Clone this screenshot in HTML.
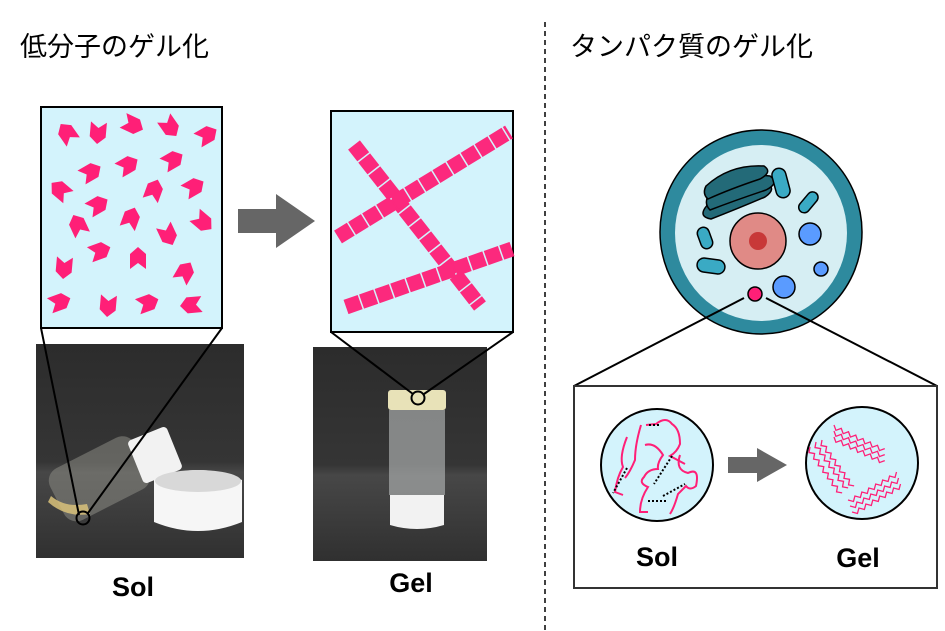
<!DOCTYPE html>
<html><head><meta charset="utf-8"><style>
html,body{margin:0;padding:0;background:#fff}
svg{display:block}
text{font-family:"Liberation Sans","Noto Sans CJK JP",sans-serif}
</style></head><body>
<svg width="945" height="631" viewBox="0 0 945 631" xmlns="http://www.w3.org/2000/svg">
<defs>
<polygon id="ch" points="-11,-8 4,-8 11,0 4,8 -11,8 -5,0" fill="#ff1f77"/>
<linearGradient id="bg" x1="0" y1="0" x2="0" y2="1"><stop offset="0" stop-color="#2c2c2c"/><stop offset="0.55" stop-color="#353535"/><stop offset="0.6" stop-color="#474747"/><stop offset="1" stop-color="#303030"/></linearGradient>
<path id="zz" d="M0 0 l4 4 l4 -4 l4 4 l4 -4 l4 4 l4 -4 l4 4 l4 -4 l4 4 l4 -4 l4 4 l4 -4 l4 4 l4 -4" fill="none" stroke="#ff1f77" stroke-width="1.3"/>
</defs>
<text x="20" y="56" font-size="27">低分子のゲル化</text>
<text x="570" y="56" font-size="27">タンパク質のゲル化</text>
<line x1="545" y1="22" x2="545" y2="631" stroke="#000" stroke-width="1.5" stroke-dasharray="5,4"/>

<!-- photos -->
<rect x="36" y="344" width="208" height="214" fill="url(#bg)"/>
<g>
<rect x="52" y="450" width="95" height="58" rx="14" fill="#8a8a84" opacity="0.55" transform="rotate(-27 99 479)"/>
<path d="M48 502 q18 16 42 12 l-3 -10 q-22 4 -36 -8z" fill="#d9c27a" opacity="0.85"/>
<rect x="134" y="432" width="42" height="46" rx="4" fill="#f2f2f2" transform="rotate(-22 155 455)"/>
<path d="M154 480 q44 -20 88 0 v42 q-44 18 -88 0z" fill="#f6f6f6"/>
<ellipse cx="198" cy="481" rx="43" ry="11" fill="#d8d8d8"/>
</g>
<rect x="313" y="347" width="174" height="214" fill="url(#bg)"/>
<rect x="388" y="390" width="58" height="20" rx="3" fill="#e8e2b8"/>
<rect x="389" y="410" width="56" height="85" fill="#a8abab" opacity="0.7"/>
<path d="M390 495 h54 v30 q-27 8 -54 0z" fill="#f2f2f2"/>

<!-- zoom lines -->
<line x1="41" y1="328" x2="79" y2="515" stroke="#000" stroke-width="2"/>
<line x1="222" y1="328" x2="88" y2="513" stroke="#000" stroke-width="2"/>
<circle cx="83" cy="518" r="6.5" fill="none" stroke="#000" stroke-width="2"/>
<line x1="331" y1="332" x2="413" y2="394" stroke="#000" stroke-width="2"/>
<line x1="513" y1="332" x2="424" y2="394" stroke="#000" stroke-width="2"/>
<circle cx="418" cy="398" r="6.5" fill="none" stroke="#000" stroke-width="2"/>

<!-- left box -->
<rect x="41" y="107" width="181" height="221" fill="#d3f3fc" stroke="#000" stroke-width="2"/>
<g>
<use href="#ch" transform="translate(67,133) rotate(-125)"/>
<use href="#ch" transform="translate(98,133) rotate(95)"/>
<use href="#ch" transform="translate(133,125) rotate(25)"/>
<use href="#ch" transform="translate(170,127) rotate(55)"/>
<use href="#ch" transform="translate(207,135) rotate(-30)"/>
<use href="#ch" transform="translate(91,172) rotate(-30)"/>
<use href="#ch" transform="translate(128,165) rotate(-30)"/>
<use href="#ch" transform="translate(173,160) rotate(-30)"/>
<use href="#ch" transform="translate(60,190) rotate(-140)"/>
<use href="#ch" transform="translate(154,190) rotate(-70)"/>
<use href="#ch" transform="translate(194,187) rotate(-30)"/>
<use href="#ch" transform="translate(98,205) rotate(-30)"/>
<use href="#ch" transform="translate(78,225) rotate(-115)"/>
<use href="#ch" transform="translate(131,218) rotate(-70)"/>
<use href="#ch" transform="translate(203,222) rotate(40)"/>
<use href="#ch" transform="translate(168,235) rotate(65)"/>
<use href="#ch" transform="translate(100,251) rotate(-20)"/>
<use href="#ch" transform="translate(138,258) rotate(-90)"/>
<use href="#ch" transform="translate(64,268) rotate(95)"/>
<use href="#ch" transform="translate(185,272) rotate(-60)"/>
<use href="#ch" transform="translate(60,302) rotate(-20)"/>
<use href="#ch" transform="translate(108,306) rotate(95)"/>
<use href="#ch" transform="translate(148,303) rotate(-20)"/>
<use href="#ch" transform="translate(191,305) rotate(175)"/>
</g>

<polygon points="238,209 276,209 276,194 315,221 276,248 276,233 238,233" fill="#666"/>

<!-- right box -->
<rect x="331" y="111" width="182" height="221" fill="#d3f3fc" stroke="#000" stroke-width="2"/>
<g stroke="#ff1f77" stroke-width="15" fill="none" stroke-dasharray="15,1.5" opacity="0.95">
<line x1="354" y1="145" x2="480" y2="306"/>
<line x1="338" y1="237" x2="509" y2="132"/>
<line x1="346" y1="307" x2="512" y2="249"/>
</g>

<text x="133" y="596" font-size="27" font-weight="bold" text-anchor="middle">Sol</text>
<text x="411" y="592" font-size="27" font-weight="bold" text-anchor="middle">Gel</text>

<!-- cell -->
<ellipse cx="761" cy="232" rx="101" ry="102" fill="#2e8a9e" stroke="#000" stroke-width="1.5"/>
<ellipse cx="761" cy="233" rx="86" ry="88" fill="#d6eef3"/>
<g stroke="#000" stroke-width="1.5">
<path d="M705 208 q20 -28 62 -25 q10 6 -2 14 q-28 12 -54 22 q-12 -2 -6 -11z" fill="#236a78"/>
<path d="M708 196 q28 -24 62 -20 q10 7 -4 14 q-30 10 -56 20 q-6 -6 -2 -14z" fill="#236a78"/>
<path d="M706 186 q24 -22 58 -20 q9 6 -4 13 q-30 10 -52 20 q-6 -5 -2 -13z" fill="#236a78"/>
<rect x="774" y="168" width="14" height="30" rx="7" fill="#3aaac4" transform="rotate(-15 781 183)"/>
<rect x="803" y="190" width="11" height="24" rx="5.5" fill="#3aaac4" transform="rotate(40 808 202)"/>
<rect x="699" y="227" width="12" height="22" rx="6" fill="#3aaac4" transform="rotate(-20 705 238)"/>
<rect x="697" y="259" width="28" height="14" rx="7" fill="#3aaac4" transform="rotate(8 711 266)"/>
<circle cx="758" cy="241" r="28" fill="#e08a86"/>
<circle cx="810" cy="234" r="11" fill="#5a9bff"/>
<circle cx="821" cy="269" r="7" fill="#5a9bff"/>
<circle cx="784" cy="287" r="11" fill="#5a9bff"/>
</g>
<circle cx="758" cy="241" r="9" fill="#c83838"/>
<line x1="744" y1="298" x2="574" y2="386" stroke="#000" stroke-width="2"/>
<line x1="766" y1="298" x2="937" y2="386" stroke="#000" stroke-width="2"/>
<circle cx="755" cy="294" r="7" fill="#ff1f77" stroke="#000" stroke-width="1.5"/>

<rect x="574" y="386" width="363" height="202" fill="#fff" stroke="#333" stroke-width="2"/>
<circle cx="657" cy="465" r="56" fill="#d3f3fc" stroke="#000" stroke-width="2"/>
<circle cx="862" cy="463" r="56" fill="#d3f3fc" stroke="#000" stroke-width="2"/>
<g fill="none" stroke="#ff1f77" stroke-width="2">
<path d="M627 437 q-8 20 -4 30 q-6 10 -8 25 l8 3"/>
<path d="M641 425 q-6 20 -6 35 q-5 12 -10 18"/>
<path d="M646 425 l10 -1 q10 -8 16 0 q8 5 8 20 q-3 8 -10 12 l15 8"/>
<path d="M645 445 q10 -3 18 10 q-6 8 -5 14 q-10 0 -14 8 q-6 6 4 10 q-8 12 -8 25 l8 0"/>
<path d="M680 455 q-5 15 8 18 q12 -6 8 13 q-6 5 -10 0 l-8 8 q-4 14 -8 20"/>
</g>
<g fill="none" stroke="#000" stroke-width="2" stroke-dasharray="2,2">
<path d="M627 468 l-14 25"/><path d="M659 425 l-12 0"/><path d="M672 456 l-18 28"/><path d="M648 501 l18 0"/><path d="M663 496 l22 -12"/>
</g>
<g>
<use href="#zz" transform="translate(834,425) rotate(25)"/>
<use href="#zz" transform="translate(834,431) rotate(25)"/>
<use href="#zz" transform="translate(834,437) rotate(25)"/>
<use href="#zz" transform="translate(816,442) rotate(55)"/>
<use href="#zz" transform="translate(822,440) rotate(55)"/>
<use href="#zz" transform="translate(810,447) rotate(55)"/>
<use href="#zz" transform="translate(848,500) rotate(-30)"/>
<use href="#zz" transform="translate(850,506) rotate(-30)"/>
<use href="#zz" transform="translate(852,512) rotate(-30)"/>
</g>
<polygon points="728,457 757,457 757,448 787,465 757,482 757,473 728,473" fill="#666"/>
<text x="657" y="566" font-size="27" font-weight="bold" text-anchor="middle">Sol</text>
<text x="858" y="567" font-size="27" font-weight="bold" text-anchor="middle">Gel</text>
</svg>
</body></html>
